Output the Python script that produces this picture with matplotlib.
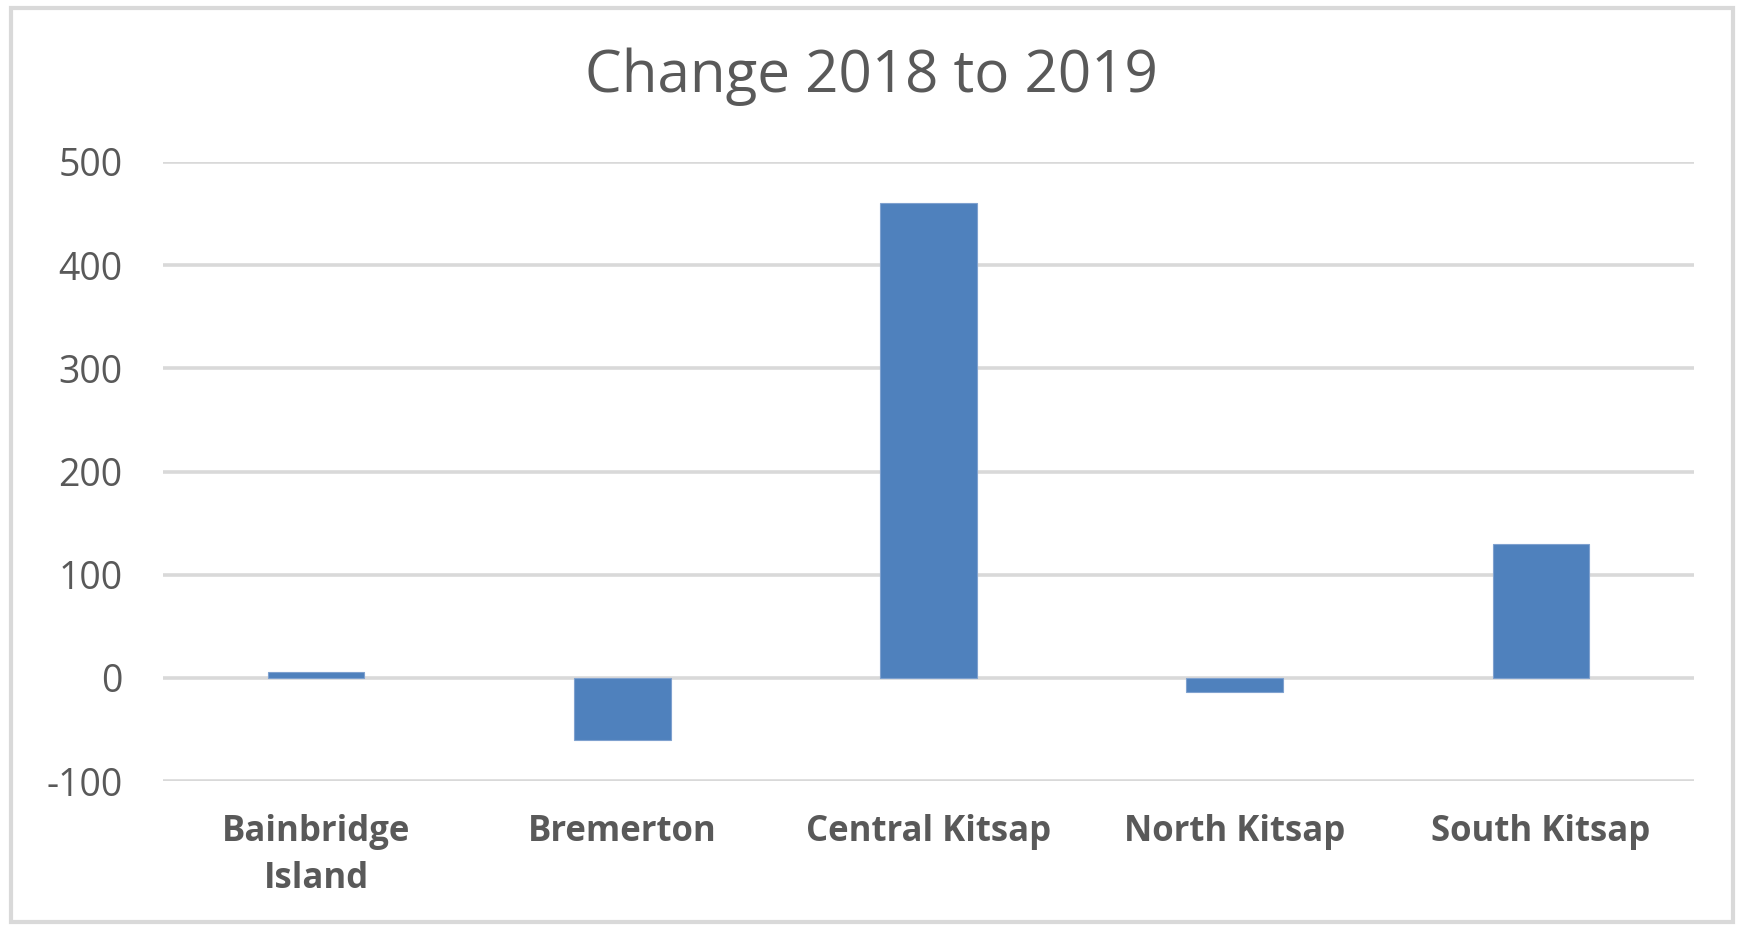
import matplotlib
matplotlib.use("Agg")
import matplotlib.pyplot as plt
from matplotlib.patches import Rectangle

categories = ["Bainbridge\nIsland", "Bremerton", "Central Kitsap", "North Kitsap", "South Kitsap"]
values = [6, -60, 460, -14, 130]
yticks = [-100, 0, 100, 200, 300, 400, 500]
title = "Change 2018 to 2019"

TEXT = "#595959"
GRID = "#D9D9D9"
BAR = "#4F81BD"

plt.rcParams["font.family"] = ["Open Sans", "DejaVu Sans"]

fig = plt.figure(figsize=(17.42, 9.26), dpi=100)
fig.patches.append(Rectangle((11 / 1742, 1 - 922 / 926), (1733 - 11) / 1742, (922 - 8) / 926,
                             transform=fig.transFigure, fill=False, edgecolor=GRID, linewidth=3))

ax = fig.add_axes([163 / 1742, 1 - 781 / 926, (1694 - 163) / 1742, (781 - 162) / 926])
x = list(range(len(categories)))
ax.bar(x, values, width=0.315, color=BAR, zorder=3, edgecolor="#7FA1CF", linewidth=0.8)
ax.set_xlim(-0.5, len(categories) - 0.5)
ax.set_ylim(-100, 500)
ax.set_yticks(yticks)
ax.set_yticklabels([str(v) for v in yticks], fontsize=27, color=TEXT)
ax.set_xticks(x)
ax.set_xticklabels(categories, fontsize=25, fontweight="bold", color=TEXT, linespacing=1.38, va="top")
ax.tick_params(axis="y", length=0, pad=29)
ax.tick_params(axis="x", length=0, pad=24)
ax.grid(axis="y", color=GRID, linewidth=2.6, zorder=0)
ax.set_axisbelow(True)
for s in ax.spines.values():
    s.set_visible(False)

fig.text(0.5, 1 - 92 / 926, title, ha="center", va="baseline", fontsize=42, color=TEXT)

fig.savefig("out.png", dpi=100, facecolor="white")
